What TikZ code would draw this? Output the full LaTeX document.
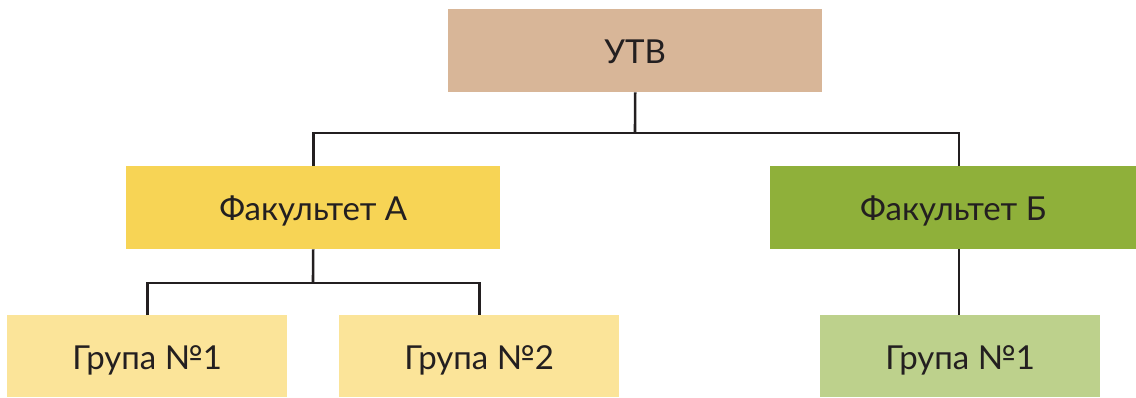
\documentclass[tikz,border=0pt]{standalone}
\usepackage{fontspec}
\setmainfont{Lato}
\definecolor{utv}{HTML}{D8B698}
\definecolor{fa}{HTML}{F7D455}
\definecolor{fb}{HTML}{8FB03A}
\definecolor{ga}{HTML}{FBE499}
\definecolor{gb}{HTML}{BDD18C}
\definecolor{ln}{HTML}{231F20}
\begin{document}
\begin{tikzpicture}[x=1pt,y=-1pt,
  box/.style={draw=none,minimum height=83pt,inner sep=0pt,anchor=north west,font=\fontsize{33}{38}\selectfont,text=ln,text height=26pt,text depth=0pt},
  conn/.style={draw=ln,line width=2.6pt}]
\useasboundingbox (0,0) rectangle (1136,397);
\node[box,fill=utv,minimum width=374pt] (utv) at (448,9) {УТВ};
\node[box,fill=fa,minimum width=374pt] (fa) at (126,166) {Факультет А};
\node[box,fill=fb,minimum width=366pt] (fb) at (770,166) {Факультет Б};
\node[box,fill=ga,minimum width=280pt,minimum height=82pt] (g1) at (7,315) {Група №1};
\node[box,fill=ga,minimum width=280pt,minimum height=82pt] (g2) at (339,315) {Група №2};
\node[box,fill=gb,minimum width=280pt,minimum height=82pt] (g3) at (820,315) {Група №1};
\coordinate (h1) at (635,133);
\coordinate (h2) at (313,283);
\coordinate (bt) at (959,166);
\coordinate (bb) at (959,249);
\draw[conn] (utv.south) -- (h1);
\draw[conn] (fa.north) |- (h1) -| (bt);
\draw[conn] (fa.south) -- (h2);
\draw[conn] (g1.north) |- (h2) -| (g2.north);
\draw[conn] (bb) -- (bb |- g3.north);
\end{tikzpicture}
\end{document}
